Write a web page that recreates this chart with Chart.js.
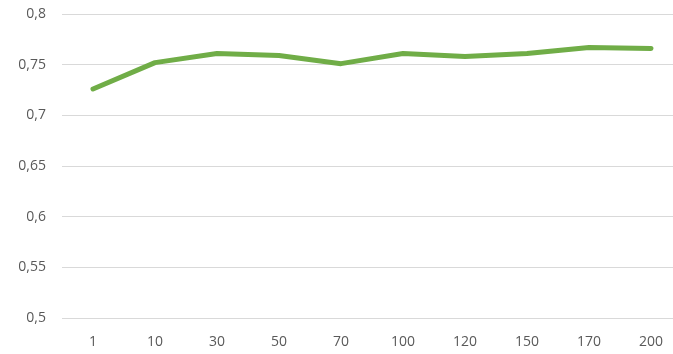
<!DOCTYPE html>
<html>
<head>
<meta charset="utf-8">
<script src="https://cdn.jsdelivr.net/npm/chart.js@4/dist/chart.umd.min.js"></script>
<style>
  html, body { margin: 0; padding: 0; background: #ffffff; overflow: hidden; }
  #wrap { width: 673px; height: 354px; overflow: hidden; }
  canvas { display: block; }
</style>
</head>
<body>
<div id="wrap"><canvas id="chart" width="682" height="354"></canvas></div>
<script>
// Categories along the horizontal axis
const categories = ['1', '10', '30', '50', '70', '100', '120', '150', '170', '200'];
// Measured score for each category
const scores = [0.726, 0.752, 0.761, 0.759, 0.751, 0.761, 0.758, 0.761, 0.767, 0.766];
// Value axis range and step
const yMin = 0.5;
const yMax = 0.8;
const yStep = 0.05;

const labelFont = { family: '"Open Sans", "Liberation Sans", sans-serif', size: 14 };
const labelColor = '#595959';

new Chart(document.getElementById('chart'), {
  type: 'line',
  data: {
    labels: categories,
    datasets: [{
      data: scores,
      borderColor: '#70ad47',
      backgroundColor: '#70ad47',
      borderWidth: 5,
      pointRadius: 0,
      tension: 0,
      borderCapStyle: 'round',
      borderJoinStyle: 'round',
      fill: false
    }]
  },
  options: {
    responsive: false,
    animation: false,
    layout: { padding: { top: 14, left: 0, right: 0, bottom: 0 } },
    plugins: {
      legend: { display: false },
      tooltip: { enabled: false }
    },
    scales: {
      x: {
        type: 'category',
        offset: true,
        grid: { display: false, drawTicks: false },
        border: { display: false },
        ticks: {
          color: labelColor,
          font: labelFont,
          padding: 16,
          maxRotation: 0,
          autoSkip: false
        },
        afterFit(scale) { scale.height = 36; }
      },
      y: {
        min: yMin,
        max: yMax,
        grid: { color: '#d9d9d9', lineWidth: 1, drawTicks: false },
        border: { display: false },
        ticks: {
          stepSize: yStep,
          color: labelColor,
          font: labelFont,
          padding: 16,
          callback: (v) => String(Math.round(v * 100) / 100).replace('.', ',')
        },
        afterFit(scale) {
          scale.width = 62;
          scale.paddingTop = 0;
          scale.paddingBottom = 0;
        }
      }
    }
  }
});
</script>
</body>
</html>
